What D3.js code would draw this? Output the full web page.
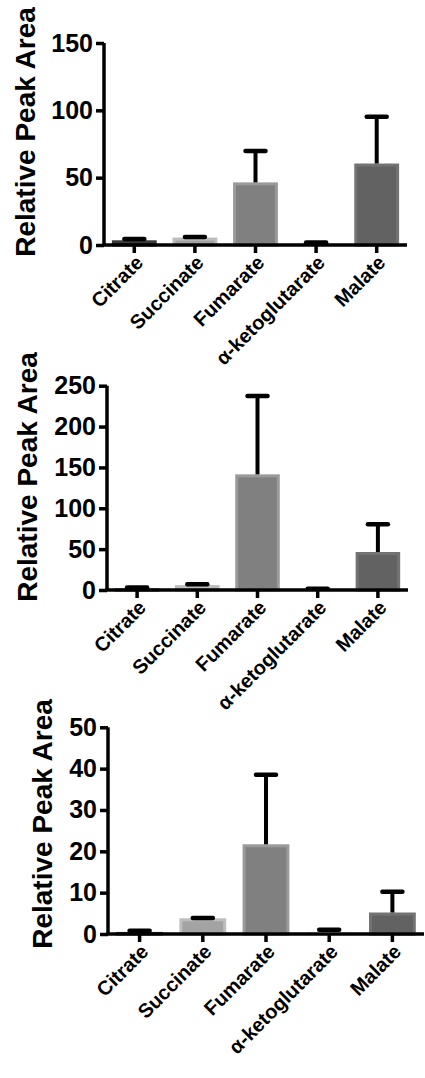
<!DOCTYPE html>
<html>
<head>
<meta charset="utf-8">
<script src="https://cdn.jsdelivr.net/npm/d3@7"></script>
<style>
  html, body { margin: 0; padding: 0; background: #fff; }
  svg { display: block; }
  text { font-family: "Liberation Sans", Arial, Helvetica, sans-serif; font-weight: bold; fill: #000; }
</style>
</head>
<body>
<svg id="chart" width="425" height="1078"></svg>
<script>
// ---- data ----
const categories = ["Citrate", "Succinate", "Fumarate", "α-ketoglutarate", "Malate"];
const barColors = ["#141414", "#a3a3a3", "#808080", "#e8e8e8", "#626262"];
const barBorders = ["#3a3a3a", "#bdbdbd", "#9a9a9a", "#f0f0f0", "#737373"];

const panel1Means = [3.5, 5.5, 46.5, 1.5, 60.5];
const panel1Errors = [1.0, 0.5, 23.3, 0.3, 34.8];
const panel1Ticks = [0, 50, 100, 150];

const panel2Means = [2, 6, 141.5, 1, 46.5];
const panel2Errors = [1, 1, 96, 0.5, 34];
const panel2Ticks = [0, 50, 100, 150, 200, 250];

const panel3Means = [0.5, 3.8, 21.7, 0.6, 5.2];
const panel3Errors = [0.3, 0.1, 16.8, 0.4, 5.0];
const panel3Ticks = [0, 10, 20, 30, 40, 50];

const yLabel = "Relative Peak Area";

// ---- layout ----
const panels = [
  { means: panel1Means, errs: panel1Errors, ticks: panel1Ticks, x0: 104, x1: 407, yBase: 245, yTop: 43, labelX: 35, labelY: 132 },
  { means: panel2Means, errs: panel2Errors, ticks: panel2Ticks, x0: 107, x1: 408, yBase: 590, yTop: 385.7, labelX: 37, labelY: 477 },
  { means: panel3Means, errs: panel3Errors, ticks: panel3Ticks, x0: 108, x1: 424, yBase: 934, yTop: 727.3, labelX: 52, labelY: 824 }
];

const svg = d3.select("#chart");

panels.forEach(p => {
  const g = svg.append("g");
  const x = d3.scaleBand().domain(categories).range([p.x0, p.x1]).paddingInner(0.26).paddingOuter(0.13);
  const y = d3.scaleLinear().domain([0, d3.max(p.ticks)]).range([p.yBase, p.yTop]);
  const data = categories.map((c, i) => ({ c, i, m: p.means[i], e: p.errs[i] }));
  const bw = x.bandwidth();
  const cx = c => x(c) + bw / 2;

  // bars
  g.selectAll("rect.bar").data(data).join("rect")
    .attr("class", "bar")
    .attr("x", d => x(d.c) + 1.5)
    .attr("width", bw - 3)
    .attr("y", d => y(d.m) + 1.5)
    .attr("height", d => Math.max(0, p.yBase - y(d.m) - 1.5))
    .attr("fill", d => barColors[d.i])
    .attr("stroke", d => barBorders[d.i])
    .attr("stroke-width", 3);

  // error bars
  g.selectAll("line.err").data(data).join("line")
    .attr("class", "err")
    .attr("x1", d => cx(d.c)).attr("x2", d => cx(d.c))
    .attr("y1", d => y(d.m)).attr("y2", d => y(d.m + d.e))
    .attr("stroke", "#000").attr("stroke-width", 4);
  g.selectAll("line.cap").data(data).join("line")
    .attr("class", "cap")
    .attr("x1", d => cx(d.c) - 10).attr("x2", d => cx(d.c) + 10)
    .attr("y1", d => y(d.m + d.e)).attr("y2", d => y(d.m + d.e))
    .attr("stroke", "#000").attr("stroke-width", 4.5).attr("stroke-linecap", "round");

  // y axis
  const yAxis = g.append("g").attr("transform", `translate(${p.x0},0)`)
    .call(d3.axisLeft(y).tickValues(p.ticks).tickSize(8).tickPadding(3).tickFormat(d3.format("d")));
  yAxis.select(".domain").attr("stroke", "#000").attr("stroke-width", 3.5)
    .attr("d", `M0,${p.yTop}V${p.yBase}`);
  yAxis.selectAll(".tick line").attr("stroke", "#000").attr("stroke-width", 3.5);
  yAxis.selectAll(".tick text")
    .attr("font-size", 25).attr("font-weight", "bold")
    .attr("font-family", "Liberation Sans, Arial, sans-serif").attr("fill", "#000");

  // x axis (ticks only; labels drawn separately)
  const xAxis = g.append("g").attr("transform", `translate(0,${p.yBase})`)
    .call(d3.axisBottom(x).tickSize(8).tickSizeOuter(0).tickFormat(""));
  xAxis.select(".domain").attr("stroke", "#000").attr("stroke-width", 3.5)
    .attr("d", `M${p.x0 - 1.75},0H${p.x1}`);
  xAxis.selectAll(".tick line").attr("stroke", "#000").attr("stroke-width", 3.5);

  g.selectAll("text.xlab").data(categories).join("text")
    .attr("class", "xlab")
    .attr("x", 0).attr("y", 0)
    .attr("text-anchor", "end")
    .attr("font-size", 20)
    .style("transform-box", "view-box")
    .style("transform-origin", "0px 0px")
    .style("transform", c => `translate(${cx(c) + 10}px, ${p.yBase + 19}px) rotate(-45deg)`)
    .text(c => c);

  // y label
  g.append("text")
    .attr("transform", `translate(${p.labelX},${p.labelY}) rotate(-90)`)
    .attr("text-anchor", "middle")
    .attr("font-size", 28)
    .text(yLabel);
});
</script>
</body>
</html>
